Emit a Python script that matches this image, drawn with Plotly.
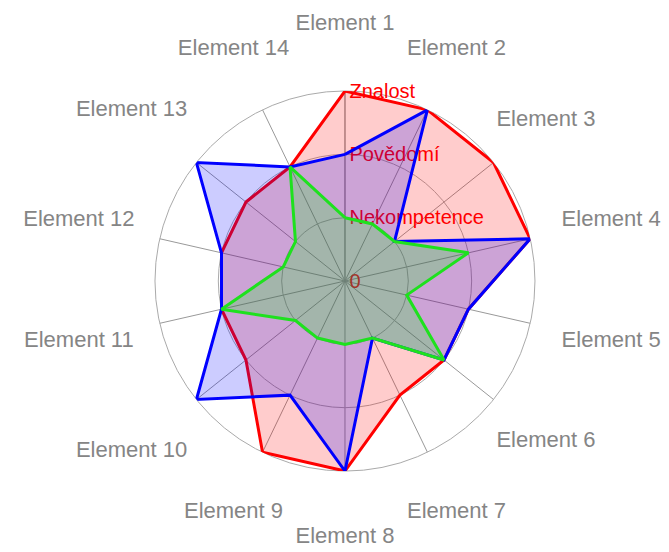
import plotly.graph_objects as go

categories = [f"Element {i}" for i in range(1, 15)]
level_values = [0, 1, 2, 3]
level_labels = ["0", "Nekompetence", "Povědomí", "Znalost"]

series_red = [3, 3, 3, 3, 2, 2, 2, 3, 3, 2, 2, 2, 2, 2]
series_blue = [2, 3, 1, 3, 2, 2, 1, 3, 2, 3, 2, 2, 3, 2]
series_green = [1, 1, 1, 2, 1, 2, 1, 1, 1, 1, 2, 1, 1, 2]

# labels near the vertical sit on the inner label ring, side labels on the outer one
inner_ring_labels = ["Element 1", "Element 2", "Element 3", "Element 6", "Element 7",
                     "Element 8", "Element 9", "Element 14"]
outer_ring_labels = ["Element 4", "Element 5", "Element 10", "Element 11",
                     "Element 12", "Element 13"]

def closed(vals):
    return list(vals) + [vals[0]]

fig = go.Figure()
for name, vals, line_c, fill_c in [
    ("Série 1", series_red, "rgb(255,0,0)", "rgba(255,0,0,0.2)"),
    ("Série 2", series_blue, "rgb(0,0,255)", "rgba(0,0,255,0.2)"),
    ("Série 3", series_green, "rgb(30,225,30)", "rgba(0,255,0,0.2)"),
]:
    fig.add_trace(go.Scatterpolar(
        r=closed(vals), theta=closed(categories), name=name,
        mode="lines", fill="toself", fillcolor=fill_c,
        line=dict(color=line_c, width=3), showlegend=False,
    ))

label_font = dict(size=22, color="#858585", family="Liberation Sans, Arial")
for labels, sub in [(inner_ring_labels, "polar2"), (outer_ring_labels, "polar3")]:
    fig.add_trace(go.Scatterpolar(
        r=[1] * len(labels), theta=labels, text=labels,
        mode="text", textposition="middle center", textfont=label_font,
        cliponaxis=False, showlegend=False, hoverinfo="skip", subplot=sub,
    ))

label_polar = lambda dom_x, dom_y: dict(
    domain=dict(x=dom_x, y=dom_y),
    bgcolor="rgba(0,0,0,0)",
    radialaxis=dict(range=[0, 1], visible=False, showgrid=False),
    angularaxis=dict(
        direction="clockwise", rotation=90, type="category",
        categoryarray=categories,
        showticklabels=False, ticks="", showline=False, showgrid=False,
    ),
)

fig.update_layout(
    width=669, height=552,
    margin=dict(l=0, r=0, t=0, b=0),
    paper_bgcolor="white",
    font=dict(family="Liberation Sans, Arial"),
    polar=dict(
        domain=dict(x=[0.2197, 0.7877], y=[0.1612, 0.8496]),
        bgcolor="white",
        radialaxis=dict(
            range=[0, 3], tickvals=level_values, ticktext=level_labels,
            angle=90, side="clockwise", layer="below traces", tickangle=90,
            tickfont=dict(size=20, color="rgb(255,0,0)"),
            showline=True, linecolor="#999999", linewidth=1,
            gridcolor="#aaaaaa", gridwidth=1, ticks="",
        ),
        angularaxis=dict(
            direction="clockwise", rotation=90, type="category",
            categoryarray=categories,
            showticklabels=False, ticks="",
            linecolor="#aaaaaa", gridcolor="#999999", layer="below traces",
        ),
    ),
    polar2=label_polar([0.1196, 0.8879], [0.0399, 0.9710]),
    polar3=label_polar([0.0957, 0.9118], [0.0109, 1.0]),
)

fig.write_html("out.html")
